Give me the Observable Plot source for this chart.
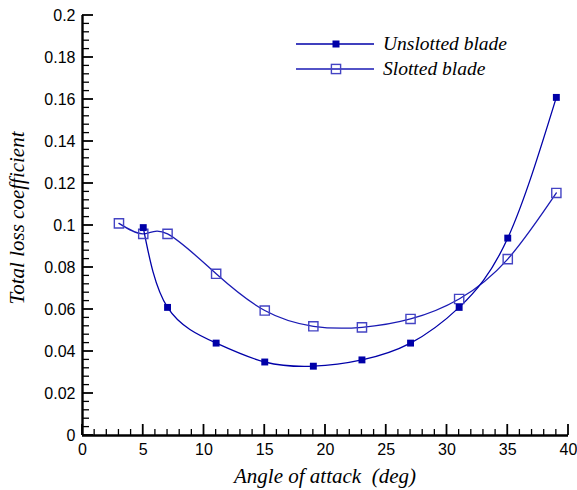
<!DOCTYPE html>
<html><head><meta charset="utf-8">
<script src="https://cdn.jsdelivr.net/npm/d3@7"></script>
<script src="https://cdn.jsdelivr.net/npm/@observablehq/plot@0.6"></script>
<style>
body{margin:0;background:#fff}
#chart{position:relative;width:577px;height:490px}
</style>
</head><body><div id="chart"></div>
<script>
// ---- data ----
const unslottedAngle = [5, 7, 11, 15, 19, 23, 27, 31, 35, 39];
const unslottedLoss  = [0.099, 0.061, 0.044, 0.035, 0.033, 0.036, 0.044, 0.061, 0.094, 0.161];
const slottedAngle   = [3, 5, 7, 11, 15, 19, 23, 27, 31, 35, 39];
const slottedLoss    = [0.101, 0.096, 0.096, 0.077, 0.0595, 0.052, 0.0515, 0.0555, 0.065, 0.084, 0.1155];
const seriesNames    = ["Unslotted blade", "Slotted blade"];
const xMajorTicks = [0, 5, 10, 15, 20, 25, 30, 35, 40];
const xMinorTicks = [1,2,3,4,6,7,8,9,11,12,13,14,16,17,18,19,21,22,23,24,26,27,28,29,31,32,33,34,36,37,38,39];
const yMajorTicks = [0, 0.02, 0.04, 0.06, 0.08, 0.1, 0.12, 0.14, 0.16, 0.18, 0.2];
const yTickLabels = ["0","0.02","0.04","0.06","0.08","0.1","0.12","0.14","0.16","0.18","0.2"];
const yMinorTicks = d3.range(0, 0.2001, 0.004).filter(v => Math.abs(v / 0.02 - Math.round(v / 0.02)) > 1e-6);
const xLabel = "Angle of attack  (deg)";
const yLabel = "Total loss coefficient";

const unslotted = unslottedAngle.map((a, i) => ({angle: a, loss: unslottedLoss[i]}));
const slotted = slottedAngle.map((a, i) => ({angle: a, loss: slottedLoss[i]}));

const W = 577, H = 490, ML = 82, MR = 9, MT = 15, MB = 55;
const C1 = "#0000a8", C2 = "#1a1ab4", C2m = "#4444c4";
const SERIF = "'Liberation Serif', 'Times New Roman', serif";

const plot = Plot.plot({
  width: W, height: H,
  marginLeft: ML, marginRight: MR, marginTop: MT, marginBottom: MB,
  x: {domain: [0, 40]},
  y: {domain: [0, 0.2]},
  style: {fontFamily: "'Liberation Sans', Arial, sans-serif", fontSize: "16px", background: "white", color: "black"},
  marks: [
    Plot.axisX({ticks: xMajorTicks, tickSize: 0, tickPadding: 8, label: null, fontSize: 16}),
    Plot.axisY({ticks: yMajorTicks, tickSize: 0, tickPadding: 7, label: null, fontSize: 16,
      tickFormat: (d) => yTickLabels[yMajorTicks.findIndex(v => Math.abs(v - d) < 1e-9)]}),
    Plot.ruleX([0], {stroke: "black", strokeWidth: 2.4}),
    Plot.ruleY([0], {stroke: "black", strokeWidth: 2.4}),
    Plot.line(slotted, {x: "angle", y: "loss", curve: "natural", stroke: C2, strokeWidth: 1.3}),
    Plot.line(unslotted, {x: "angle", y: "loss", curve: "natural", stroke: C1, strokeWidth: 1.3}),
    Plot.dot(slotted, {x: "angle", y: "loss", symbol: "square", r: 5.2, fill: "white", fillOpacity: 0, stroke: C2m, strokeWidth: 1.4}),
    Plot.dot(unslotted, {x: "angle", y: "loss", symbol: "square", r: 3.9, fill: C1, stroke: "none"})
  ]
});
document.getElementById("chart").appendChild(plot);

const svg = d3.select(plot);
const sx = plot.scale("x"), sy = plot.scale("y");
const y0 = sy.apply(0), x0 = sx.apply(0);
// inward ticks, positioned through Plot's own scales
const tg = svg.append("g").attr("stroke", "black");
xMajorTicks.forEach(v => tg.append("line").attr("x1", sx.apply(v)).attr("x2", sx.apply(v)).attr("y1", y0).attr("y2", y0 - 11).attr("stroke-width", 1.8));
xMinorTicks.forEach(v => tg.append("line").attr("x1", sx.apply(v)).attr("x2", sx.apply(v)).attr("y1", y0).attr("y2", y0 - 6).attr("stroke-width", 1.3));
yMajorTicks.forEach(v => tg.append("line").attr("y1", sy.apply(v)).attr("y2", sy.apply(v)).attr("x1", x0).attr("x2", x0 + 11).attr("stroke-width", 1.8));
yMinorTicks.forEach(v => tg.append("line").attr("y1", sy.apply(v)).attr("y2", sy.apply(v)).attr("x1", x0).attr("x2", x0 + 7).attr("stroke-width", 1.3));

// axis titles
svg.append("text").attr("x", 325).attr("y", 483)
  .attr("text-anchor", "middle").style("white-space", "pre")
  .attr("font-family", SERIF).attr("font-style", "italic").attr("font-size", 21)
  .attr("fill", "black").text(xLabel);
svg.append("text").attr("transform", `translate(24, 218) rotate(-90)`)
  .attr("text-anchor", "middle")
  .attr("font-family", SERIF).attr("font-style", "italic").attr("font-size", 21)
  .attr("fill", "black").text(yLabel);

// legend
const leg = svg.append("g");
const legendRows = [
  {name: seriesNames[0], y: 44, line: C1, filled: true},
  {name: seriesNames[1], y: 69, line: C2, filled: false}
];
legendRows.forEach(r => {
  leg.append("line").attr("x1", 296).attr("x2", 374).attr("y1", r.y).attr("y2", r.y)
    .attr("stroke", r.line).attr("stroke-width", 1.3);
  if (r.filled) {
    leg.append("rect").attr("x", 336 - 3.5).attr("y", r.y - 3.5).attr("width", 7).attr("height", 7).attr("fill", C1);
  } else {
    leg.append("rect").attr("x", 336 - 4.6).attr("y", r.y - 4.6).attr("width", 9.2).attr("height", 9.2)
      .attr("fill", "none").attr("stroke", C2m).attr("stroke-width", 1.4);
  }
  leg.append("text").attr("x", 383).attr("y", r.y + 6).attr("fill", "black").attr("text-anchor", "start")
    .attr("font-family", SERIF).attr("font-style", "italic").attr("font-size", 19.5)
    .text(r.name);
});
</script>
</body></html>
